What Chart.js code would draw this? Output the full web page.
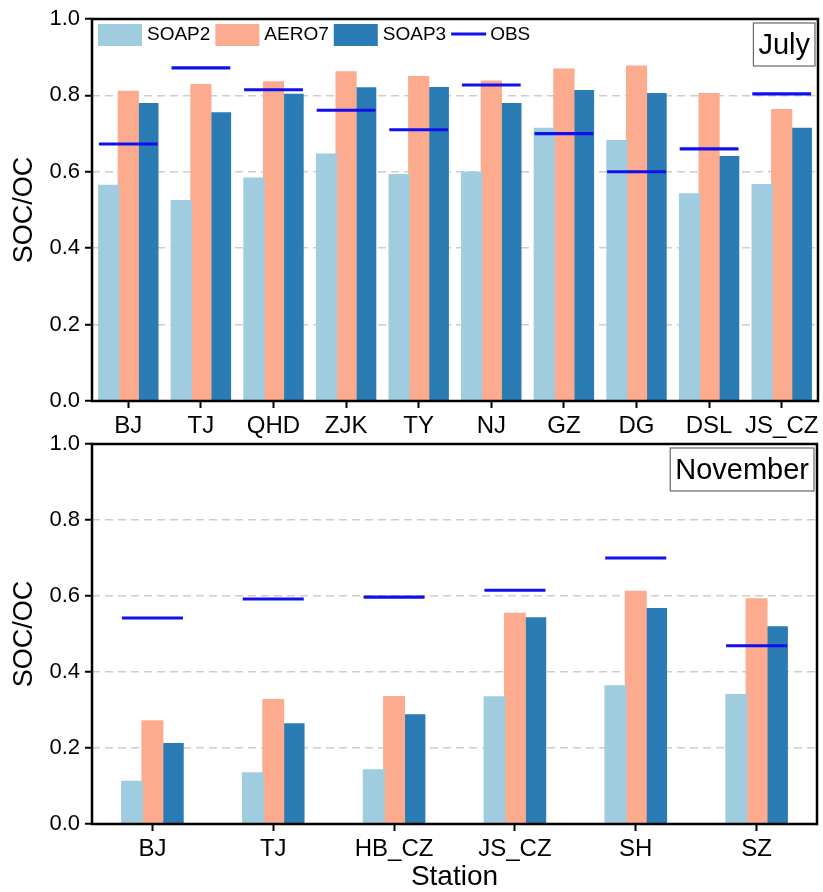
<!DOCTYPE html>
<html>
<head>
<meta charset="utf-8">
<script src="https://cdn.jsdelivr.net/npm/chart.js@4/dist/chart.umd.min.js"></script>
<style>
  html, body { margin: 0; padding: 0; background: #ffffff; }
  body { width: 823px; height: 892px; position: relative; overflow: hidden; }
  .panel { position: absolute; left: 0; width: 823px; }
  #july { top: 0; height: 440px; }
  #nov { top: 420px; height: 472px; }
</style>
</head>
<body>
<div class="panel" id="july"><canvas id="cJuly"></canvas></div>
<div class="panel" id="nov"><canvas id="cNov"></canvas></div>
<script>
// ---- data ----
const seriesNames = ['SOAP2', 'AERO7', 'SOAP3', 'OBS'];
const seriesColors = ['#9fcddf', '#fcab8e', '#2b7bb4', '#1010ee'];

const yTickValues = [0, 0.2, 0.4, 0.6, 0.8, 1.0];
const yTickLabels = ['0.0', '0.2', '0.4', '0.6', '0.8', '1.0'];

const julyStations = ['BJ', 'TJ', 'QHD', 'ZJK', 'TY', 'NJ', 'GZ', 'DG', 'DSL', 'JS_CZ'];
const julySOAP2 = [0.564, 0.524, 0.583, 0.646, 0.592, 0.599, 0.713, 0.681, 0.542, 0.566];
const julyAERO7 = [0.810, 0.828, 0.835, 0.861, 0.849, 0.837, 0.868, 0.876, 0.804, 0.762];
const julySOAP3 = [0.778, 0.754, 0.802, 0.819, 0.820, 0.778, 0.812, 0.804, 0.639, 0.713];
const julyOBS   = [0.673, 0.872, 0.815, 0.761, 0.710, 0.827, 0.700, 0.600, 0.660, 0.804];

const novStations = ['BJ', 'TJ', 'HB_CZ', 'JS_CZ', 'SH', 'SZ'];
const novSOAP2 = [0.112, 0.134, 0.142, 0.334, 0.363, 0.340];
const novAERO7 = [0.271, 0.327, 0.335, 0.554, 0.612, 0.592];
const novSOAP3 = [0.211, 0.263, 0.287, 0.542, 0.566, 0.518];
const novOBS   = [0.542, 0.592, 0.597, 0.615, 0.700, 0.469];

// ---- shared look ----
const FONT = "'Liberation Sans', Arial, Helvetica, sans-serif";
Chart.defaults.font.family = FONT;
Chart.defaults.color = '#000000';
Chart.defaults.animation = false;

const OBS_HALF = 0.004; // half thickness of an observation marker, in axis units

// black frame around the plot area
const framePlugin = {
  id: 'frame',
  afterDraw(chart) {
    const a = chart.chartArea, ctx = chart.ctx;
    ctx.save();
    ctx.strokeStyle = '#000';
    ctx.lineWidth = 2.5;
    ctx.strokeRect(a.left, a.top, a.right - a.left, a.bottom - a.top);
    ctx.restore();
  }
};

// boxed month label in the upper right corner
const monthPlugin = {
  id: 'month',
  afterDraw(chart, args, opts) {
    const a = chart.chartArea, ctx = chart.ctx;
    ctx.save();
    ctx.font = '29px ' + FONT;
    const w = ctx.measureText(opts.text).width + 10;
    const h = 43;
    const x = a.right - 3 - w, y = a.top + 4;
    ctx.fillStyle = '#fff';
    ctx.fillRect(x, y, w, h);
    ctx.strokeStyle = '#666';
    ctx.lineWidth = 1.2;
    ctx.strokeRect(x, y, w, h);
    ctx.fillStyle = '#000';
    ctx.textAlign = 'center';
    ctx.textBaseline = 'middle';
    ctx.fillText(opts.text, x + w / 2, y + h / 2 + 1);
    ctx.restore();
  }
};

// legend row inside the plot area: three boxes and a line for OBS
const legendPlugin = {
  id: 'rowLegend',
  afterDraw(chart, args, opts) {
    if (!opts.show) return;
    const a = chart.chartArea, ctx = chart.ctx;
    ctx.save();
    ctx.font = '19px ' + FONT;
    ctx.textBaseline = 'middle';
    ctx.textAlign = 'left';
    let x = a.left + 6;
    const cy = a.top + 16;
    seriesNames.forEach((name, i) => {
      if (name === 'OBS') {
        ctx.strokeStyle = seriesColors[i];
        ctx.lineWidth = 3;
        ctx.beginPath();
        ctx.moveTo(x, cy - 1);
        ctx.lineTo(x + 35, cy - 1);
        ctx.stroke();
        x += 39;
      } else {
        ctx.fillStyle = seriesColors[i];
        ctx.fillRect(x, cy - 11, 44, 22);
        x += 49;
      }
      ctx.fillStyle = '#000';
      ctx.fillText(name, x, cy);
      x += ctx.measureText(name).width + 5;
    });
    ctx.restore();
  }
};

function makePanel(canvasId, stations, s2, a7, s3, obs, opt) {
  const barCommon = {
    categoryPercentage: opt.catPct,
    barPercentage: 1.0,
    borderWidth: 0,
    inflateAmount: 0.8,
    order: 1
  };
  return new Chart(document.getElementById(canvasId), {
    type: 'bar',
    data: {
      labels: stations,
      datasets: [
        Object.assign({ label: seriesNames[0], data: s2, backgroundColor: seriesColors[0] }, barCommon),
        Object.assign({ label: seriesNames[1], data: a7, backgroundColor: seriesColors[1] }, barCommon),
        Object.assign({ label: seriesNames[2], data: s3, backgroundColor: seriesColors[2] }, barCommon),
        {
          label: seriesNames[3],
          data: obs.map(v => [v - OBS_HALF, v + OBS_HALF]),
          backgroundColor: seriesColors[3],
          borderWidth: 0,
          borderSkipped: false,
          grouped: false,
          categoryPercentage: opt.catPct,
          barPercentage: 1.0,
          order: 0
        }
      ]
    },
    options: {
      responsive: true,
      maintainAspectRatio: false,
      layout: { padding: { top: opt.padTop, right: opt.padRight, left: 0, bottom: 0 } },
      plugins: {
        legend: { display: false },
        tooltip: { enabled: false },
        month: { text: opt.month },
        rowLegend: { show: opt.legend }
      },
      scales: {
        x: {
          offset: true,
          grid: {
            display: true,
            offset: false,
            drawOnChartArea: false,
            drawTicks: true,
            tickLength: 7,
            tickColor: '#000',
            tickWidth: 2
          },
          border: { display: false },
          ticks: { font: { size: 24 }, color: '#000', padding: 4, maxRotation: 0, autoSkip: false },
          title: {
            display: opt.xTitle,
            text: 'Station',
            font: { size: 28, lineHeight: 1 },
            color: '#000',
            padding: { top: 0, bottom: 1 }
          },
          afterFit(scale) { scale.height = opt.xHeight; }
        },
        y: {
          min: 0,
          max: 1,
          afterBuildTicks(scale) { scale.ticks = yTickValues.map(v => ({ value: v })); },
          grid: {
            color: c => (c.tick && c.tick.value > 0.001 && c.tick.value < 0.999) ? '#cdcdcd' : 'rgba(0,0,0,0)',
            lineWidth: 1.5,
            drawTicks: true,
            tickLength: 7,
            tickColor: '#000',
            tickWidth: 2
          },
          border: { display: false, dash: [8, 5] },
          ticks: {
            font: { size: 22 },
            color: '#000',
            padding: 5,
            callback: (v, i) => yTickLabels[i]
          },
          title: {
            display: true,
            text: 'SOC/OC',
            font: { size: 27, lineHeight: 1 },
            color: '#000',
            padding: { top: 11, bottom: 0 }
          },
          afterFit(scale) { scale.width = 92; }
        }
      }
    },
    plugins: [framePlugin, monthPlugin, legendPlugin]
  });
}

makePanel('cJuly', julyStations, julySOAP2, julyAERO7, julySOAP3, julyOBS, {
  catPct: 0.81, padTop: 19, padRight: 5, xHeight: 39, xTitle: false, month: 'July', legend: true
});
makePanel('cNov', novStations, novSOAP2, novAERO7, novSOAP3, novOBS, {
  catPct: 0.505, padTop: 24, padRight: 6, xHeight: 68, xTitle: true, month: 'November', legend: false
});
</script>
</body>
</html>
